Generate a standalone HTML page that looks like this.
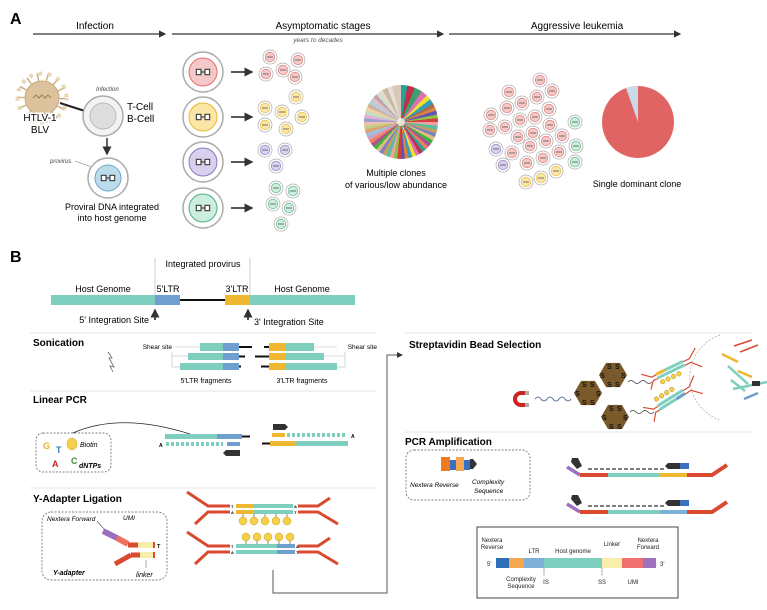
<!DOCTYPE html>
<html><head><meta charset="utf-8"><style>
html,body{margin:0;padding:0;background:#fff}
svg{display:block;font-family:"Liberation Sans",sans-serif}
#pie{position:absolute;left:364px;top:85px;width:74px;height:74px;border-radius:50%;
background:conic-gradient(#2aa198 0 10deg,#c0304a 10deg 22deg,#3aa070 22deg 34deg,#e070b0 34deg 44deg,#f0e030 44deg 52deg,#30a0c0 52deg 60deg,#a07050 60deg 66deg,#e08040 66deg 72deg,#6050c0 72deg 78deg,#90c040 78deg 84deg,#d04040 84deg 90deg,#f0a0a0 90deg 96deg,#50c0a0 96deg 102deg,#c0a060 102deg 108deg,#8080c0 108deg 114deg,#e0c080 114deg 120deg,#40b040 120deg 126deg,#b05090 126deg 132deg,#f08060 132deg 138deg,#2aa198 138deg 144deg,#c0304a 144deg 150deg,#e070b0 150deg 156deg,#f0e030 156deg 162deg,#30a0c0 162deg 168deg,#e08040 168deg 174deg,#6050c0 174deg 180deg,#d04040 180deg 186deg,#90c040 186deg 192deg,#f0a0a0 192deg 198deg,#50c0a0 198deg 204deg,#c0a060 204deg 210deg,#8080c0 210deg 216deg,#e0c080 216deg 222deg,#40b040 222deg 228deg,#b05090 228deg 234deg,#f08060 234deg 240deg,#d0a0c0 240deg 246deg,#a0c0e0 246deg 252deg,#e0a070 252deg 258deg,#c0d080 258deg 264deg,#f0c0b0 264deg 270deg,#a0a0d0 270deg 276deg,#e0b0d0 276deg 282deg,#c0e0c0 282deg 288deg,#f0d0a0 288deg 294deg,#d0b0a0 294deg 300deg,#b0d0e0 300deg 306deg,#e0c0c0 306deg 312deg,#c0a0b0 312deg 318deg,#d0e0d0 318deg 324deg,#e8d8c8 324deg 330deg,#c8b8a8 330deg 338deg,#e8e0d8 338deg 346deg,#d8c8b8 346deg 360deg)}
#pie:after{content:"";position:absolute;left:33px;top:33px;width:8px;height:8px;border-radius:50%;background:rgba(255,255,255,.7)}
</style></head><body>
<div style="position:relative;width:767px;height:610px">
<div id="pie"></div>
<svg style="position:absolute;left:0;top:0" width="767" height="610" viewBox="0 0 767 610" xmlns="http://www.w3.org/2000/svg">
<defs>
<marker id="ah" markerWidth="6" markerHeight="6" refX="5" refY="3" orient="auto"><path d="M0,0 L6,3 L0,6z" fill="#333"/></marker>
<symbol id="pv" viewBox="-6 -3 12 6"><rect x="-5" y="-2" width="3.5" height="4" fill="#fff" stroke="#333" stroke-width="0.8"/><rect x="1.5" y="-2" width="3.5" height="4" fill="#fff" stroke="#333" stroke-width="0.8"/><line x1="-1.5" y1="0" x2="1.5" y2="0" stroke="#333" stroke-width="0.8"/></symbol>
<symbol id="Br" viewBox="-21 -21 42 42"><circle r="20" fill="#fff" stroke="#aaa" stroke-width="1.5"/><circle r="14" fill="#f5c8c8" stroke="#e07070"/><use href="#pv" x="-8" y="-4" width="16" height="8"/></symbol>
<symbol id="By" viewBox="-21 -21 42 42"><circle r="20" fill="#fff" stroke="#aaa" stroke-width="1.5"/><circle r="14" fill="#fbe6a8" stroke="#e8b830"/><use href="#pv" x="-8" y="-4" width="16" height="8"/></symbol>
<symbol id="Bp" viewBox="-21 -21 42 42"><circle r="20" fill="#fff" stroke="#aaa" stroke-width="1.5"/><circle r="14" fill="#d9d0ee" stroke="#8a78c0"/><use href="#pv" x="-8" y="-4" width="16" height="8"/></symbol>
<symbol id="Bg" viewBox="-21 -21 42 42"><circle r="20" fill="#fff" stroke="#aaa" stroke-width="1.5"/><circle r="14" fill="#cceedd" stroke="#50b080"/><use href="#pv" x="-8" y="-4" width="16" height="8"/></symbol>
<symbol id="sr" viewBox="-8 -8 16 16"><circle r="7" fill="#fff" stroke="#aaa" stroke-width="0.7"/><circle r="4.8" fill="#f5c8c8" stroke="#e07070" stroke-width="0.6"/><line x1="-3" x2="3" stroke="#555" stroke-width="0.8"/></symbol>
<symbol id="sy" viewBox="-8 -8 16 16"><circle r="7" fill="#fff" stroke="#aaa" stroke-width="0.7"/><circle r="4.8" fill="#fbe6a8" stroke="#e8b830" stroke-width="0.6"/><line x1="-3" x2="3" stroke="#555" stroke-width="0.8"/></symbol>
<symbol id="sp" viewBox="-8 -8 16 16"><circle r="7" fill="#fff" stroke="#aaa" stroke-width="0.7"/><circle r="4.8" fill="#d9d0ee" stroke="#8a78c0" stroke-width="0.6"/><line x1="-3" x2="3" stroke="#555" stroke-width="0.8"/></symbol>
<symbol id="sg" viewBox="-8 -8 16 16"><circle r="7" fill="#fff" stroke="#aaa" stroke-width="0.7"/><circle r="4.8" fill="#cceedd" stroke="#50b080" stroke-width="0.6"/><line x1="-3" x2="3" stroke="#555" stroke-width="0.8"/></symbol>
<symbol id="bead" viewBox="-15 -15 30 30"><polygon points="14,0 7,12.1 -7,12.1 -14,0 -7,-12.1 7,-12.1" fill="#7a5a2a"/><g font-size="7" font-weight="bold" fill="#111" font-family="Liberation Sans,sans-serif"><text x="-6" y="-6">S</text><text x="2" y="-6">S</text><text x="-13" y="3">S</text><text x="8" y="3">S</text><text x="-6" y="12">S</text><text x="2" y="12">S</text></g></symbol>
</defs>
<text x="10" y="24" font-size="16" font-weight="bold">A</text>
<text x="95" y="29" font-size="10" text-anchor="middle">Infection</text>
<line x1="33" y1="34" x2="165" y2="34" stroke="#333" stroke-width="1.2" marker-end="url(#ah)"/>
<text x="323" y="29" font-size="10" text-anchor="middle">Asymptomatic stages</text>
<line x1="172" y1="34" x2="443" y2="34" stroke="#333" stroke-width="1.2" marker-end="url(#ah)"/>
<text x="318" y="42" font-size="6.5" font-style="italic" fill="#555" text-anchor="middle">years to decades</text>
<text x="577" y="29" font-size="10" text-anchor="middle">Aggressive leukemia</text>
<line x1="449" y1="34" x2="680" y2="34" stroke="#333" stroke-width="1.2" marker-end="url(#ah)"/>
<circle cx="42" cy="98" r="21" fill="none" stroke="#c9a97a" stroke-width="8" stroke-dasharray="1.4,8"/>
<circle cx="42" cy="98" r="24.5" fill="none" stroke="#e8d5b5" stroke-width="4" stroke-dasharray="3.5,5.9" stroke-dashoffset="1"/>
<circle cx="42" cy="98" r="17" fill="#dcc39e" stroke="#c9a97a"/>
<path d="M33,98 l3,-3 3,3 3,-3 3,3 3,-3 3,3" fill="none" stroke="#a07d50" stroke-width="1"/>
<text x="40" y="121" font-size="10" text-anchor="middle" stroke="#fff" stroke-width="3" paint-order="stroke">HTLV-1</text>
<text x="40" y="133" font-size="10" text-anchor="middle">BLV</text>
<line x1="60" y1="103" x2="88" y2="112" stroke="#222" stroke-width="2"/>
<text x="96" y="91" font-size="6" font-style="italic" fill="#444">Infection</text>
<circle cx="103" cy="116" r="20" fill="#f3f3f3" stroke="#aaa" stroke-width="1.5"/>
<circle cx="103" cy="116" r="13" fill="#ddd" stroke="#bbb"/>
<text x="127" y="110" font-size="10">T-Cell</text>
<text x="127" y="122" font-size="10">B-Cell</text>
<line x1="107" y1="138" x2="107" y2="154" stroke="#333" stroke-width="1.5" marker-end="url(#ah)"/>
<text x="50" y="163" font-size="6" font-style="italic" fill="#444">provirus</text>
<line x1="75" y1="161" x2="100" y2="170" stroke="#666" stroke-width="0.5"/>
<circle cx="108" cy="178" r="20" fill="#fff" stroke="#aaa" stroke-width="1.5"/>
<circle cx="108" cy="178" r="13" fill="#bcdcec" stroke="#6aa6c9"/>
<use href="#pv" x="100" y="174" width="16" height="8"/>
<text x="112" y="210" font-size="9" text-anchor="middle">Proviral DNA integrated</text>
<text x="112" y="221" font-size="9" text-anchor="middle">into host genome</text>
<use href="#Br" x="182" y="51" width="42" height="42"/>
<use href="#By" x="182" y="96" width="42" height="42"/>
<use href="#Bp" x="182" y="141" width="42" height="42"/>
<use href="#Bg" x="182" y="187" width="42" height="42"/>
<g stroke="#222" stroke-width="1.5"><line x1="231" y1="72" x2="252" y2="72" marker-end="url(#ah)"/><line x1="231" y1="117" x2="252" y2="117" marker-end="url(#ah)"/><line x1="231" y1="162" x2="252" y2="162" marker-end="url(#ah)"/><line x1="231" y1="208" x2="252" y2="208" marker-end="url(#ah)"/></g>
<g>
<use href="#sr" x="262" y="49" width="16" height="16"/><use href="#sr" x="290" y="52" width="16" height="16"/><use href="#sr" x="275" y="62" width="16" height="16"/><use href="#sr" x="258" y="66" width="16" height="16"/><use href="#sr" x="287" y="69" width="16" height="16"/>
<use href="#sy" x="288" y="89" width="16" height="16"/><use href="#sy" x="257" y="100" width="16" height="16"/><use href="#sy" x="274" y="104" width="16" height="16"/><use href="#sy" x="294" y="109" width="16" height="16"/><use href="#sy" x="257" y="117" width="16" height="16"/><use href="#sy" x="278" y="121" width="16" height="16"/>
<use href="#sp" x="257" y="142" width="16" height="16"/><use href="#sp" x="277" y="142" width="16" height="16"/><use href="#sp" x="268" y="158" width="16" height="16"/>
<use href="#sg" x="268" y="180" width="16" height="16"/><use href="#sg" x="285" y="183" width="16" height="16"/><use href="#sg" x="265" y="196" width="16" height="16"/><use href="#sg" x="281" y="200" width="16" height="16"/><use href="#sg" x="273" y="216" width="16" height="16"/>
</g>
<text x="396" y="176" font-size="9" text-anchor="middle">Multiple clones</text>
<text x="396" y="188" font-size="9" text-anchor="middle">of various/low abundance</text>
<g>
<use href="#sr" x="532" y="72" width="16" height="16"/><use href="#sr" x="501" y="84" width="16" height="16"/><use href="#sr" x="529" y="89" width="16" height="16"/><use href="#sr" x="544" y="83" width="16" height="16"/><use href="#sr" x="499" y="100" width="16" height="16"/><use href="#sr" x="514" y="95" width="16" height="16"/><use href="#sr" x="541" y="101" width="16" height="16"/><use href="#sr" x="483" y="107" width="16" height="16"/><use href="#sr" x="512" y="112" width="16" height="16"/><use href="#sr" x="527" y="109" width="16" height="16"/><use href="#sr" x="542" y="117" width="16" height="16"/><use href="#sg" x="567" y="114" width="16" height="16"/><use href="#sr" x="482" y="122" width="16" height="16"/><use href="#sr" x="497" y="119" width="16" height="16"/><use href="#sr" x="510" y="129" width="16" height="16"/><use href="#sr" x="525" y="125" width="16" height="16"/><use href="#sr" x="538" y="133" width="16" height="16"/><use href="#sr" x="554" y="128" width="16" height="16"/><use href="#sp" x="488" y="141" width="16" height="16"/><use href="#sr" x="504" y="145" width="16" height="16"/><use href="#sr" x="522" y="138" width="16" height="16"/><use href="#sr" x="535" y="150" width="16" height="16"/><use href="#sr" x="551" y="144" width="16" height="16"/><use href="#sg" x="568" y="138" width="16" height="16"/><use href="#sp" x="495" y="157" width="16" height="16"/><use href="#sr" x="519" y="155" width="16" height="16"/><use href="#sg" x="567" y="154" width="16" height="16"/><use href="#sy" x="548" y="163" width="16" height="16"/><use href="#sy" x="533" y="170" width="16" height="16"/><use href="#sy" x="518" y="174" width="16" height="16"/>
</g>
<circle cx="638" cy="122" r="36" fill="#e06464"/>
<path d="M638,122 L626,88 A36,36 0 0 1 638,86 z" fill="#c9dbe8"/>
<text x="637" y="187" font-size="9" text-anchor="middle">Single dominant clone</text>

<text x="10" y="262" font-size="16" font-weight="bold">B</text>
<text x="203" y="267" font-size="9" text-anchor="middle">Integrated provirus</text>
<line x1="155" y1="258" x2="155" y2="295" stroke="#bbb" stroke-width="0.7"/>
<line x1="250" y1="258" x2="250" y2="295" stroke="#bbb" stroke-width="0.7"/>
<text x="103" y="292" font-size="9" text-anchor="middle">Host Genome</text>
<text x="168" y="292" font-size="9" text-anchor="middle">5'LTR</text>
<text x="237" y="292" font-size="9" text-anchor="middle">3'LTR</text>
<text x="302" y="292" font-size="9" text-anchor="middle">Host Genome</text>
<rect x="51" y="295" width="104" height="10" fill="#7fcfbf"/>
<rect x="155" y="295" width="25" height="10" fill="#6f9fcf"/>
<line x1="180" y1="300" x2="225" y2="300" stroke="#111" stroke-width="2"/>
<rect x="225" y="295" width="25" height="10" fill="#f0b830"/>
<rect x="250" y="295" width="105" height="10" fill="#7fcfbf"/>
<line x1="155" y1="320" x2="155" y2="310" stroke="#111" stroke-width="1.5" marker-end="url(#ah)"/>
<line x1="248" y1="320" x2="248" y2="310" stroke="#111" stroke-width="1.5" marker-end="url(#ah)"/>
<text x="149" y="323" font-size="9" text-anchor="end">5' Integration Site</text>
<text x="254" y="325" font-size="9">3' Integration Site</text>
<line x1="30" y1="333" x2="376" y2="333" stroke="#ddd" stroke-width="0.8"/>
<text x="33" y="346" font-size="10" font-weight="bold">Sonication</text>
<path d="M108,352 l4,6 -3,0 5,9 -4,-1 3,6" fill="none" stroke="#666" stroke-width="0.8"/>
<text x="172" y="349" font-size="6.5" text-anchor="end">Shear site</text>
<text x="377" y="349" font-size="6.5" text-anchor="end">Shear site</text>
<g stroke="#bbb" stroke-width="0.6"><line x1="175" y1="347" x2="200" y2="347"/><line x1="314" y1="347" x2="337" y2="347"/><line x1="172" y1="356" x2="188" y2="356"/><line x1="324" y1="356" x2="345" y2="356"/><line x1="172" y1="352" x2="172" y2="367"/><line x1="172" y1="367" x2="180" y2="367"/><line x1="337" y1="367" x2="345" y2="367"/><line x1="345" y1="352" x2="345" y2="367"/></g>
<rect x="200" y="343" width="23" height="8" fill="#7fcfbf"/><rect x="223" y="343" width="16" height="8" fill="#6f9fcf"/><line x1="239" y1="347" x2="252" y2="347" stroke="#111" stroke-width="2"/>
<line x1="264" y1="347" x2="269" y2="347" stroke="#111" stroke-width="2"/><rect x="269" y="343" width="16" height="8" fill="#f0b830"/><rect x="285" y="343" width="29" height="8" fill="#7fcfbf"/>
<rect x="188" y="353" width="35" height="7" fill="#7fcfbf"/><rect x="223" y="353" width="16" height="7" fill="#6f9fcf"/><line x1="239" y1="356.5" x2="245" y2="356.5" stroke="#111" stroke-width="2"/>
<line x1="255" y1="356.5" x2="269" y2="356.5" stroke="#111" stroke-width="2"/><rect x="269" y="353" width="16" height="7" fill="#f0b830"/><rect x="285" y="353" width="39" height="7" fill="#7fcfbf"/>
<rect x="180" y="363" width="43" height="7" fill="#7fcfbf"/><rect x="223" y="363" width="16" height="7" fill="#6f9fcf"/><line x1="239" y1="366.5" x2="241" y2="366.5" stroke="#111" stroke-width="2"/>
<line x1="261" y1="366.5" x2="269" y2="366.5" stroke="#111" stroke-width="2"/><rect x="269" y="363" width="16" height="7" fill="#f0b830"/><rect x="285" y="363" width="52" height="7" fill="#7fcfbf"/>
<text x="206" y="383" font-size="7" text-anchor="middle">5'LTR fragments</text>
<text x="302" y="383" font-size="7" text-anchor="middle">3'LTR fragments</text>
<line x1="30" y1="391" x2="376" y2="391" stroke="#ddd" stroke-width="0.8"/>
<text x="33" y="403" font-size="10" font-weight="bold">Linear PCR</text>
<rect x="36" y="433" width="75" height="39" rx="7" fill="none" stroke="#555" stroke-width="0.7" stroke-dasharray="2,1.5"/>
<path d="M73,433 Q120,412 190,434" fill="none" stroke="#222" stroke-width="0.8"/>
<ellipse cx="72" cy="444" rx="5" ry="6" fill="#f5d04a" stroke="#c9a020" stroke-width="0.5"/>
<text x="80" y="447" font-size="7" font-style="italic">Biotin</text>
<text x="43" y="449" font-size="9" font-weight="bold" fill="#e8b030">G</text>
<text x="56" y="453" font-size="9" font-weight="bold" fill="#3b7cb8">T</text>
<text x="52" y="467" font-size="9" font-weight="bold" fill="#cc2222">A</text>
<text x="71" y="464" font-size="9" font-weight="bold" fill="#3a8a3a">C</text>
<text x="79" y="468" font-size="7" font-weight="bold" font-style="italic">dNTPs</text>
<rect x="165" y="434" width="52" height="5" fill="#7fcfbf"/><rect x="217" y="434" width="25" height="5" fill="#6f9fcf"/><line x1="242" y1="436.5" x2="250" y2="436.5" stroke="#111" stroke-width="2"/>
<text x="159" y="447" font-size="5" font-weight="bold">A</text>
<line x1="166" y1="444" x2="223" y2="444" stroke="#7fcfbf" stroke-width="4" stroke-dasharray="3,2"/><rect x="227" y="442" width="13" height="4" fill="#6f9fcf"/>
<path d="M226,450 h14 v6 h-14 l-3,-3z" fill="#333"/>
<path d="M273,424 h12 l3,3 -3,3 h-12z" fill="#333"/>
<line x1="272" y1="435" x2="345" y2="435" stroke="#7fcfbf" stroke-width="4" stroke-dasharray="3,2"/><rect x="272" y="433" width="13" height="4" fill="#f0b830"/>
<text x="351" y="438" font-size="5" font-weight="bold">A</text>
<line x1="262" y1="443.5" x2="270" y2="443.5" stroke="#111" stroke-width="2"/><rect x="270" y="441" width="26" height="5" fill="#f0b830"/><rect x="296" y="441" width="52" height="5" fill="#7fcfbf"/>
<line x1="30" y1="488" x2="376" y2="488" stroke="#ddd" stroke-width="0.8"/>
<text x="33" y="502" font-size="10" font-weight="bold">Y-Adapter Ligation</text>
<rect x="42" y="512" width="125" height="68" rx="9" fill="none" stroke="#555" stroke-width="0.7" stroke-dasharray="2,1.5"/>
<text x="47" y="521" font-size="6.5" font-style="italic">Nextera Forward</text>
<text x="123" y="520" font-size="6.5" font-style="italic">UMI</text>
<line x1="97" y1="521" x2="105" y2="530" stroke="#555" stroke-width="0.6"/>
<line x1="103" y1="531" x2="117" y2="538" stroke="#9d6ebd" stroke-width="6"/>
<line x1="117" y1="538" x2="128" y2="544" stroke="#ee7060" stroke-width="6"/>
<line x1="128" y1="545" x2="138" y2="545" stroke="#d94a30" stroke-width="5"/>
<rect x="138" y="542" width="15" height="6" fill="#f8eeaa"/><rect x="153" y="542" width="2" height="6" fill="#d94a30"/>
<text x="157" y="548" font-size="5.5" font-weight="bold">T</text>
<line x1="115" y1="564" x2="131" y2="555" stroke="#d94a30" stroke-width="5"/><line x1="131" y1="555" x2="140" y2="555" stroke="#d94a30" stroke-width="5"/>
<rect x="140" y="552" width="13" height="6" fill="#f8eeaa"/><rect x="153" y="552" width="2" height="6" fill="#d94a30"/>
<line x1="146" y1="560" x2="146" y2="568" stroke="#555" stroke-width="0.5"/>
<text x="53" y="575" font-size="7" font-weight="bold" font-style="italic">Y-adapter</text>
<text x="136" y="577" font-size="7" font-style="italic">linker</text>
<!-- Y ligation duplexes -->
<rect x="236" y="504" width="57" height="4" fill="#7fcfbf"/><rect x="236" y="510" width="57" height="4" fill="#7fcfbf"/>
<rect x="236" y="504" width="18" height="4" fill="#f0b830"/><rect x="236" y="510" width="18" height="4" fill="#f0b830"/>
<rect x="236" y="544" width="57" height="4" fill="#7fcfbf"/><rect x="236" y="550" width="57" height="4" fill="#7fcfbf"/>
<rect x="277" y="544" width="18" height="4" fill="#6f9fcf"/><rect x="277" y="550" width="18" height="4" fill="#6f9fcf"/>
<g fill="none" stroke="#d94a30" stroke-width="3">
<polyline points="187,492 208,506 230,506"/><polyline points="195,524 208,512 230,512"/><polyline points="298,506 318,506 330,498"/><polyline points="298,512 318,512 338,524"/>
<polyline points="187,532 208,546 230,546"/><polyline points="195,564 208,552 230,552"/><polyline points="298,546 318,546 330,538"/><polyline points="298,552 318,552 338,564"/>
</g>
<g font-size="4" font-weight="bold"><text x="231" y="508">T</text><text x="231" y="514">A</text><text x="294" y="508">A</text><text x="294" y="514">T</text><text x="231" y="548">T</text><text x="231" y="554">A</text><text x="296" y="548">A</text><text x="296" y="554">T</text></g>
<g stroke="#333" stroke-width="0.6"><line x1="243" y1="514" x2="243" y2="517"/><line x1="254" y1="514" x2="254" y2="517"/><line x1="265" y1="514" x2="265" y2="517"/><line x1="276" y1="514" x2="276" y2="517"/><line x1="287" y1="514" x2="287" y2="517"/>
<line x1="246" y1="541" x2="246" y2="544"/><line x1="257" y1="541" x2="257" y2="544"/><line x1="268" y1="541" x2="268" y2="544"/><line x1="279" y1="541" x2="279" y2="544"/><line x1="290" y1="541" x2="290" y2="544"/></g>
<g fill="#f5d04a" stroke="#c9a020" stroke-width="0.5"><circle cx="243" cy="521" r="4"/><circle cx="254" cy="521" r="4"/><circle cx="265" cy="521" r="4"/><circle cx="276" cy="521" r="4"/><circle cx="287" cy="521" r="4"/>
<circle cx="246" cy="537" r="4"/><circle cx="257" cy="537" r="4"/><circle cx="268" cy="537" r="4"/><circle cx="279" cy="537" r="4"/><circle cx="290" cy="537" r="4"/></g>
<polyline points="273,570 273,593 387,593 387,355 402,355" fill="none" stroke="#555" stroke-width="1" marker-end="url(#ah)"/>
<!-- right -->
<line x1="405" y1="333" x2="752" y2="333" stroke="#ddd" stroke-width="0.8"/>
<text x="409" y="348" font-size="10" font-weight="bold">Streptavidin Bead Selection</text>
<path d="M529,391 h-8 a8,8 0 0 0 0,16 h8 v-4 h-8 a4,4 0 0 1 0,-8 h8z" fill="#cc2222"/>
<rect x="525" y="391" width="4" height="4" fill="#aaa"/><rect x="525" y="403" width="4" height="4" fill="#aaa"/>
<path d="M535,399 q3,-4 6,0 t6,0 t6,0 t6,0 t6,0 t6,0" fill="none" stroke="#3b5b8b" stroke-width="0.8"/>
<use href="#bead" x="573" y="378" width="30" height="30"/>
<use href="#bead" x="598" y="360" width="30" height="30"/>
<use href="#bead" x="600" y="402" width="30" height="30"/>
<path d="M628,382 q3,-3 6,0 t6,0 t6,0 t6,0" fill="none" stroke="#333" stroke-width="0.7"/>
<path d="M630,412 q3,-3 6,0 t6,0 t6,0 t6,0" fill="none" stroke="#333" stroke-width="0.7"/>
<g transform="translate(652,378) rotate(-26)">
<rect x="5" y="-3" width="30" height="3" fill="#7fcfbf"/><rect x="5" y="1" width="30" height="3" fill="#7fcfbf"/><rect x="5" y="-3" width="10" height="3" fill="#f0b830"/>
<g fill="#f5d04a" stroke="#a08010" stroke-width="0.4"><circle cx="8" cy="8" r="2.3"/><circle cx="14" cy="8" r="2.3"/><circle cx="20" cy="8" r="2.3"/><circle cx="26" cy="8" r="2.3"/></g>
<g fill="none" stroke="#d94a30" stroke-width="1.2"><polyline points="-8,-8 0,-1 5,-1"/><polyline points="-6,10 0,3 5,3"/><polyline points="35,-1 42,-1 52,-8"/><polyline points="35,3 42,3 50,12"/></g>
</g>
<g transform="translate(654,410) rotate(-32)">
<rect x="5" y="-3" width="30" height="3" fill="#7fcfbf"/><rect x="5" y="1" width="30" height="3" fill="#7fcfbf"/><rect x="25" y="1" width="10" height="3" fill="#6f9fcf"/>
<g fill="#f5d04a" stroke="#a08010" stroke-width="0.4"><circle cx="8" cy="-8" r="2.3"/><circle cx="14" cy="-8" r="2.3"/><circle cx="20" cy="-8" r="2.3"/><circle cx="26" cy="-8" r="2.3"/></g>
<g fill="none" stroke="#d94a30" stroke-width="1.2"><polyline points="-8,-8 0,-1 5,-1"/><polyline points="-6,10 0,3 5,3"/><polyline points="35,-1 42,-1 52,-8"/><polyline points="35,3 42,3 50,12"/></g>
</g>
<path d="M720,335 A45,45 0 0 0 720,420" fill="none" stroke="#aaa" stroke-width="0.7" stroke-dasharray="2,1.5"/>
<g stroke-width="2.5"><line x1="722" y1="354" x2="738" y2="362" stroke="#f0b830"/><line x1="728" y1="366" x2="748" y2="384" stroke="#7fcfbf"/><line x1="738" y1="371" x2="752" y2="377" stroke="#f0b830"/><line x1="733" y1="389" x2="767" y2="382" stroke="#7fcfbf"/><line x1="744" y1="399" x2="758" y2="393" stroke="#6f9fcf"/><line x1="731" y1="380" x2="745" y2="391" stroke="#7fcfbf"/><line x1="734" y1="346" x2="752" y2="340" stroke="#d94a30" stroke-width="1.5"/><line x1="740" y1="352" x2="758" y2="345" stroke="#d94a30" stroke-width="1.5"/><rect x="752" y="381" width="8" height="5" fill="#333" stroke="none"/></g>
<line x1="405" y1="432" x2="752" y2="432" stroke="#ddd" stroke-width="0.8"/>
<text x="405" y="445" font-size="10" font-weight="bold">PCR Amplification</text>
<rect x="406" y="450" width="124" height="50" rx="8" fill="none" stroke="#555" stroke-width="0.7" stroke-dasharray="2,1.5"/>
<rect x="441" y="457" width="9" height="14" fill="#f07a20"/><rect x="450" y="460" width="6" height="10" fill="#3b6fc0"/><rect x="456" y="457" width="8" height="14" fill="#f5a850"/><rect x="464" y="460" width="6" height="10" fill="#3b6fc0"/><path d="M470,459 h3 l4,5 -4,5 h-3z" fill="#333"/>
<text x="410" y="487" font-size="6.5" font-style="italic">Nextera Reverse</text>
<text x="472" y="484" font-size="6.5" font-style="italic">Complexity</text>
<text x="474" y="493" font-size="6.5" font-style="italic">Sequence</text>
<!-- pcr rows -->
<polyline points="567,467 580,475" fill="none" stroke="#a070c0" stroke-width="3.5"/>
<rect x="580" y="473" width="28" height="4" fill="#d94a30"/><rect x="608" y="473" width="52" height="4" fill="#7fcfbf"/><rect x="660" y="473" width="27" height="4" fill="#f0b830"/>
<polyline points="687,475 712,475 727,465" fill="none" stroke="#d94a30" stroke-width="4"/>
<line x1="588" y1="469" x2="666" y2="469" stroke="#333" stroke-width="1.2" stroke-dasharray="4,2"/>
<path d="M668,463 h12 v6 h-12 l-3,-3z" fill="#333"/><rect x="680" y="463" width="9" height="6" fill="#3b6fc0"/>
<path d="M572,458 l6,0 l4,8 -5,3 -6,-7z" fill="#333"/>
<polyline points="567,504 580,512" fill="none" stroke="#a070c0" stroke-width="3.5"/>
<rect x="580" y="510" width="28" height="4" fill="#d94a30"/><rect x="608" y="510" width="52" height="4" fill="#7fcfbf"/><rect x="660" y="510" width="27" height="4" fill="#7fb0d8"/>
<polyline points="687,512 712,512 727,502" fill="none" stroke="#d94a30" stroke-width="4"/>
<line x1="588" y1="506" x2="666" y2="506" stroke="#333" stroke-width="1.2" stroke-dasharray="4,2"/>
<path d="M668,500 h12 v6 h-12 l-3,-3z" fill="#333"/><rect x="680" y="500" width="9" height="6" fill="#3b6fc0"/>
<path d="M572,495 l6,0 l4,8 -5,3 -6,-7z" fill="#333"/>
<rect x="477" y="527" width="201" height="71" fill="#fff" stroke="#444" stroke-width="1"/>
<g font-size="6" fill="#222">
<text x="492" y="542" text-anchor="middle">Nextera</text><text x="492" y="549" text-anchor="middle">Reverse</text>
<text x="534" y="553" text-anchor="middle">LTR</text><text x="573" y="553" text-anchor="middle">Host genome</text>
<text x="612" y="546" text-anchor="middle">Linker</text>
<text x="648" y="542" text-anchor="middle">Nextera</text><text x="648" y="549" text-anchor="middle">Forward</text>
<text x="487" y="566">5'</text><text x="660" y="566">3'</text>
<text x="521" y="581" text-anchor="middle">Complexity</text><text x="521" y="588" text-anchor="middle">Sequence</text>
<text x="546" y="584" text-anchor="middle">IS</text><text x="602" y="584" text-anchor="middle">SS</text><text x="633" y="584" text-anchor="middle">UMI</text>
</g>
<rect x="496" y="558" width="13" height="10" fill="#2c6fb8"/><rect x="509" y="558" width="15" height="10" fill="#f5a850"/><rect x="524" y="558" width="20" height="10" fill="#7fb0d8"/><rect x="544" y="558" width="58" height="10" fill="#7fcfbf"/><rect x="602" y="558" width="20" height="10" fill="#fbeeaa"/><rect x="622" y="558" width="21" height="10" fill="#f07070"/><rect x="643" y="558" width="13" height="10" fill="#a070c0"/>
<line x1="544" y1="568" x2="544" y2="576" stroke="#333" stroke-width="0.6" stroke-dasharray="1.5,1"/><line x1="602" y1="568" x2="602" y2="576" stroke="#333" stroke-width="0.6" stroke-dasharray="1.5,1"/>
</svg>
</div>
</body></html>
